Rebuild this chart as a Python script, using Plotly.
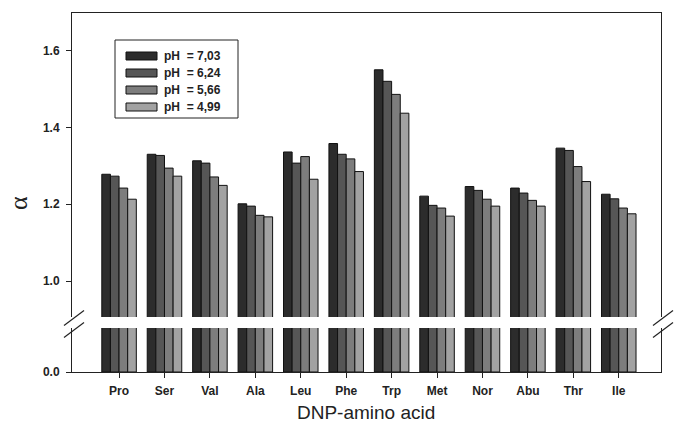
import plotly.graph_objects as go

categories = ["Pro", "Ser", "Val", "Ala", "Leu", "Phe", "Trp", "Met", "Nor", "Abu", "Thr", "Ile"]
series_names = ["pH  = 7,03", "pH  = 6,24", "pH  = 5,66", "pH  = 4,99"]
ph_703 = [1.278, 1.330, 1.313, 1.201, 1.336, 1.358, 1.550, 1.221, 1.246, 1.242, 1.346, 1.226]
ph_624 = [1.273, 1.327, 1.307, 1.195, 1.307, 1.330, 1.520, 1.197, 1.236, 1.229, 1.340, 1.214]
ph_566 = [1.242, 1.294, 1.271, 1.171, 1.324, 1.318, 1.486, 1.190, 1.213, 1.210, 1.298, 1.190]
ph_499 = [1.213, 1.273, 1.249, 1.167, 1.265, 1.285, 1.437, 1.169, 1.195, 1.195, 1.259, 1.175]
series_values = [ph_703, ph_624, ph_566, ph_499]
colors = ["#2c2c2c", "#565656", "#7d7d7d", "#a2a2a2"]
upper_ticks = [1.0, 1.2, 1.4, 1.6]
lower_ticks = [0.0]

W, H = 674, 435
X0, X1, Y0, Y1 = 72, 661, 13, 372


def px(x):
    return (x - X0) / (X1 - X0)


def py(y):
    return (Y1 - y) / (Y1 - Y0)


fig = go.Figure()
xs = list(range(len(categories)))
for name, vals, col in zip(series_names, series_values, colors):
    for yax, xax in (("y", "x"), ("y2", "x2")):
        fig.add_trace(go.Bar(
            x=xs, y=vals, name=name, marker=dict(color=col, line=dict(color="#111111", width=1)),
            xaxis=xax, yaxis=yax, showlegend=False, hoverinfo="skip"))

tickfont = dict(family="Liberation Sans, Arial", size=12, color="#222222")
xrange_ = [-1.036, 11.93]

fig.update_layout(
    width=W, height=H,
    margin=dict(l=X0, r=W - X1, t=Y0, b=H - Y1, pad=0),
    paper_bgcolor="white", plot_bgcolor="white",
    barmode="group", bargap=0.24, bargroupgap=0.0,
    showlegend=False,
    xaxis=dict(domain=[0, 1], anchor="y", range=xrange_, tickmode="array", tickvals=xs,
               ticktext=[f"<b>{c}</b>" for c in categories], ticks="outside", ticklen=5,
               tickcolor="#222", showline=True, linecolor="#222", linewidth=1,
               showgrid=False, zeroline=False, tickfont=tickfont, ticklabelstandoff=3),
    xaxis2=dict(domain=[0, 1], anchor="y2", range=xrange_, matches="x", side="top",
                showticklabels=False, ticks="", showline=True, linecolor="#222",
                linewidth=1, showgrid=False, zeroline=False),
    yaxis=dict(domain=[0, py(328)], anchor="x", range=[0, 44 / 384], tickmode="array",
               tickvals=lower_ticks, ticktext=["<b>0.0</b>"], ticks="outside", ticklen=5,
               tickcolor="#222", showline=True, mirror=True, linecolor="#222", linewidth=1,
               showgrid=False, zeroline=False, tickfont=tickfont, ticklabelstandoff=4),
    yaxis2=dict(domain=[py(317), 1], anchor="x2", range=[1 - 36 / 384, 1 + 268 / 384],
                tickmode="array", tickvals=upper_ticks,
                ticktext=[f"<b>{v:.1f}</b>" for v in upper_ticks], ticks="outside", ticklen=5,
                tickcolor="#222", showline=True, mirror=True, linecolor="#222", linewidth=1,
                showgrid=False, zeroline=False, tickfont=tickfont, ticklabelstandoff=4),
)

shapes = []
# axis break marks
for cx in (74, 663):
    for cy in (318, 330):
        shapes.append(dict(type="line", xref="paper", yref="paper",
                           x0=px(cx - 10), y0=py(cy + 7.5), x1=px(cx + 10), y1=py(cy - 7.5),
                           line=dict(color="#222", width=1.2)))

# legend box
shapes.append(dict(type="rect", xref="paper", yref="paper",
                   x0=px(115), x1=px(238), y0=py(40), y1=py(118),
                   line=dict(color="#222", width=1), fillcolor="white"))
annotations = []
for i, (name, col) in enumerate(zip(series_names, colors)):
    cy = 56 + i * 17
    shapes.append(dict(type="rect", xref="paper", yref="paper",
                       x0=px(126), x1=px(157), y0=py(cy - 4), y1=py(cy + 4),
                       line=dict(color="#111", width=1), fillcolor=col))
    annotations.append(dict(x=px(162), y=py(cy), xref="paper", yref="paper",
                            text=f"<b>{name}</b>", showarrow=False, xanchor="left",
                            yanchor="middle",
                            font=dict(family="Liberation Sans, Arial", size=12, color="#222")))

annotations.append(dict(x=px(366), y=py(412), xref="paper", yref="paper",
                        text="DNP-amino acid", showarrow=False, xanchor="center", yanchor="middle",
                        font=dict(family="Liberation Sans, Arial", size=19, color="#222")))
annotations.append(dict(x=px(18), y=py(203), xref="paper", yref="paper",
                        text="α", showarrow=False, xanchor="center", yanchor="middle",
                        textangle=-90,
                        font=dict(family="Liberation Serif, Times New Roman", size=26, color="#222")))

fig.update_layout(shapes=shapes, annotations=annotations)
fig.write_html("out.html", post_script="document.body.style.margin='0';",
               config={"displayModeBar": False})
